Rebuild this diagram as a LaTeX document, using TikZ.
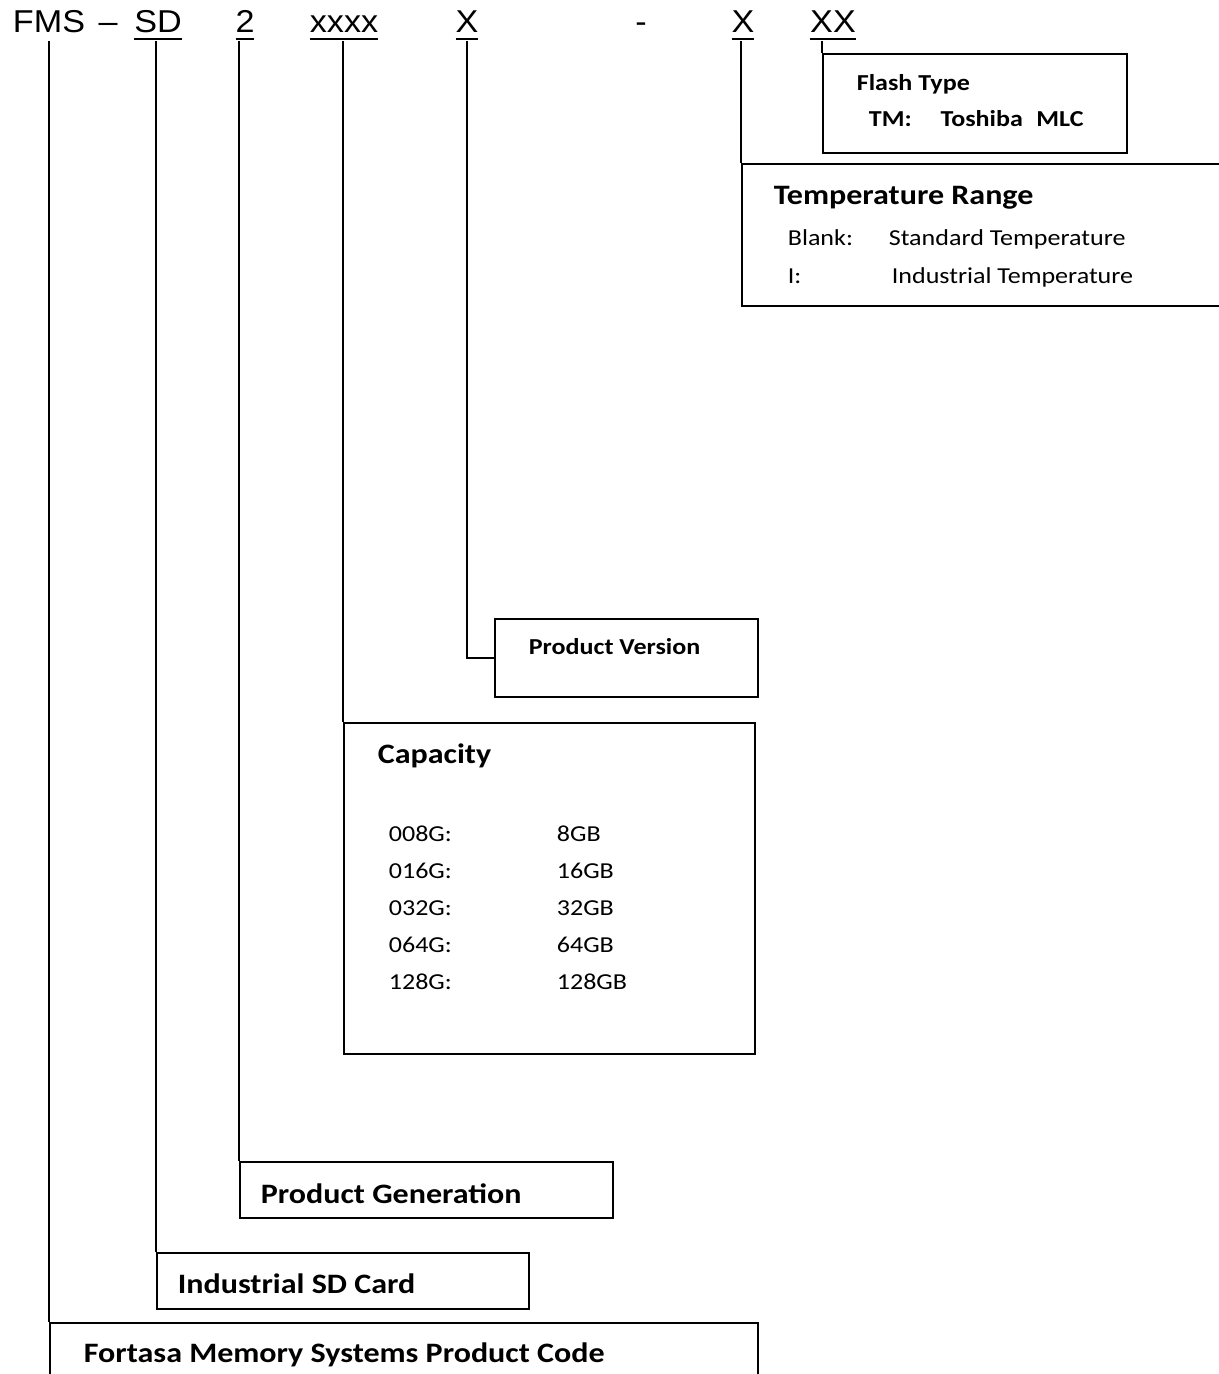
\documentclass[tikz,border=0pt]{standalone}
\usepackage{fontspec}
\setmainfont{Carlito}[FakeStretch=1.14]
\newfontfamily\headfont{Liberation Sans}[FakeStretch=1.08]
\usepackage{tikz}
\newcommand\codeul[1]{\setbox0\hbox{#1}\rlap{\rule[-4.8pt]{\wd0}{1.4pt}}\box0}

\begin{document}
\begin{tikzpicture}[x=0.02cm, y=-0.02cm, line width=1pt,
  code/.style={font=\headfont\fontsize{18}{21}\selectfont, inner sep=0pt, anchor=base},
  box/.style={rectangle, draw, anchor=north west, inner sep=0pt},
  head/.style={font=\bfseries\fontsize{16}{19}\selectfont, inner sep=0pt, anchor=base west},
  subhead/.style={font=\bfseries\fontsize{13}{16}\selectfont, inner sep=0pt, anchor=base west},
  entry/.style={font=\fontsize{13}{16}\selectfont, inner sep=0pt, anchor=base west}]
\path[fill=white] (0,0) rectangle (1219,1374);
\useasboundingbox (0,0) rectangle (1219,1374);

% part number
\node[code] (fms) at (49,32) {FMS};
\node[code] (dash1) at (108,32) {\textendash};
\node[code] (sd) at (158,32) {\codeul{SD}};
\node[code] (gen) at (245,32) {\codeul{2}};
\node[code] (cap) at (344,32) {\codeul{xxxx}};
\node[code] (ver) at (467,32) {\codeul{X}};
\node[code] (dash2) at (641,32) {-};
\node[code] (temp) at (743,32) {\codeul{X}};
\node[code] (flash) at (833,32) {\codeul{XX}};

% boxes
\node[box, minimum width=6.08cm, minimum height=1.98cm] (flashbox) at (822,53) {};
\node[box, minimum width=10.4cm, minimum height=2.84cm] (tempbox) at (741,163) {};
\node[box, minimum width=5.26cm, minimum height=1.56cm] (verbox) at (494,618) {};
\node[box, minimum width=8.22cm, minimum height=6.62cm] (capbox) at (343,722) {};
\node[box, minimum width=7.46cm, minimum height=1.12cm] (genbox) at (239,1161) {};
\node[box, minimum width=7.44cm, minimum height=1.12cm] (sdbox) at (156,1252) {};
\node[box, minimum width=14.16cm, minimum height=2cm] (fmsbox) at (49,1322) {};

% flash type
\node[subhead] (flashtitle) at (856,90) {Flash Type};
\node[subhead] (flashtm) at (868,126) {TM:\hspace{16.5pt}Toshiba\hspace{7.6pt}MLC};

% temperature range
\node[head] (temptitle) at (773,204) {Temperature Range};
\node[entry] (blank) at (787,245) {Blank:};
\node[entry] (blankval) at (888,245) {Standard Temperature};
\node[entry] (ind) at (787,283) {I:};
\node[entry] (indval) at (891,283) {Industrial Temperature};

% version
\node[subhead] (vertitle) at (528,654) {Product Version};

% capacity
\node[head] (captitle) at (377,763) {Capacity};
\node[entry] (c1) at (388,841) {008G:};
\node[entry] (v1) at (556,841) {8GB};
\node[entry] (c2) at (388,878) {016G:};
\node[entry] (v2) at (556,878) {16GB};
\node[entry] (c3) at (388,915) {032G:};
\node[entry] (v3) at (556,915) {32GB};
\node[entry] (c4) at (388,952) {064G:};
\node[entry] (v4) at (556,952) {64GB};
\node[entry] (c5) at (388,989) {128G:};
\node[entry] (v5) at (556,989) {128GB};

\node[head] (gentitle) at (260,1203) {Product Generation};
\node[head] (sdtitle) at (177,1293) {Industrial SD Card};
\node[head] (fmstitle) at (83,1362) {Fortasa Memory Systems Product Code};

% connectors
\draw (fmsbox.north west |- sd.south) -- (fmsbox.north west);
\draw (sdbox.north west |- sd.south) -- (sdbox.north west);
\draw (genbox.north west |- gen.south) -- (genbox.north west);
\draw (capbox.north west |- cap.south) -- (capbox.north west);
\draw (ver.south) |- (verbox.west);
\draw (tempbox.north west |- temp.south) -- (tempbox.north west);
\draw (flashbox.north west |- flash.south) -- (flashbox.north west);
\end{tikzpicture}
\end{document}
